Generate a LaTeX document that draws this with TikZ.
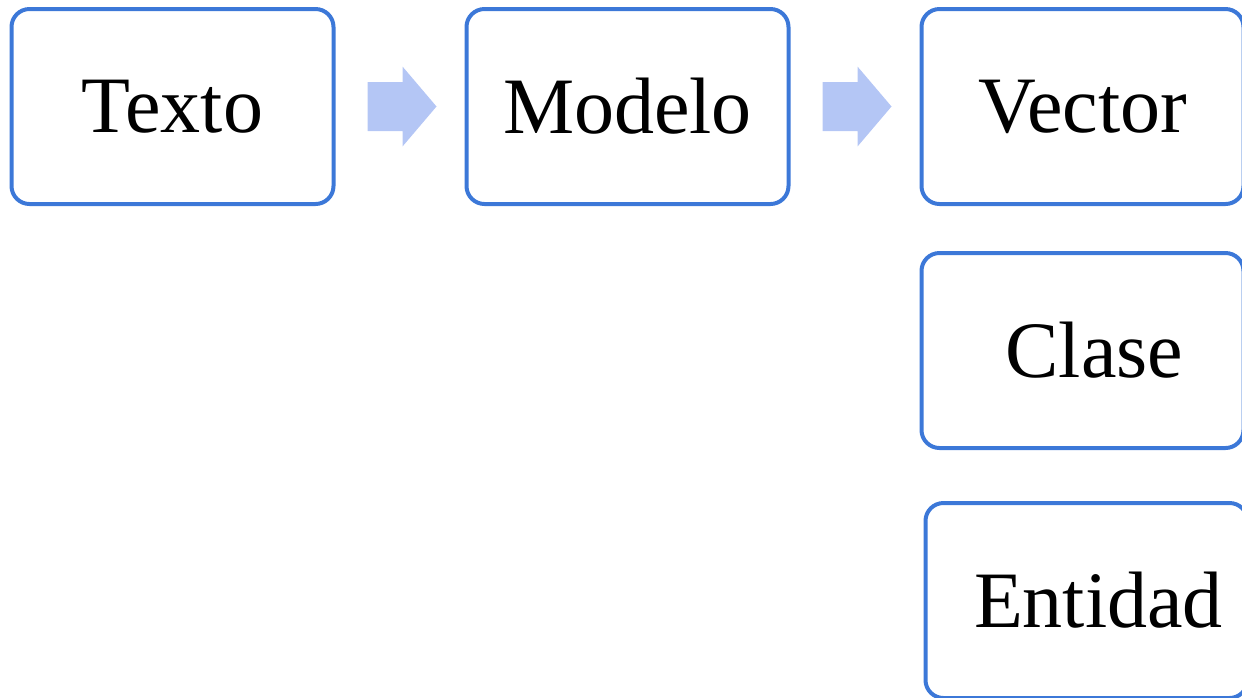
\documentclass[tikz,border=0pt]{standalone}
\usepackage{fontspec}
\setmainfont{Liberation Serif}
\usepackage{tikz}
\usetikzlibrary{matrix}
\usetikzlibrary{calc}
\definecolor{boxblue}{RGB}{60,120,216}
\definecolor{arrowblue}{RGB}{180,198,245}

\begin{document}
\begin{tikzpicture}[x=1pt, y=1pt]

    % TikZ styles for drawing %%%%%%%%%%%%%%%%%%%%%%%%%%%%%%%%%%%%%%%%%%%%%%%%%%%%%%
    \tikzstyle{box} = [draw=boxblue,rectangle,rounded corners=18pt,line width=4pt,minimum width=322pt,minimum height=195pt,inner sep=0pt,font=\fontsize{80}{96}\selectfont]
    \tikzstyle{flecha} = [fill=arrowblue,draw=none]

    \useasboundingbox (0,0) rectangle (1242,-697);

    % Node placement with matrix library (3x3 array) %%%%%%%%%%%%%%%%%%%%%%%%%%%%%%%%%%%%
    \matrix[ampersand replacement=\&, row sep=45pt, column sep=129pt, inner sep=0pt, outer sep=0pt, anchor=north west] at (9.5,-7) {

      % row 1
      \node[box] (texto) {Texto}; \&
      \node[box] (modelo) {Modelo}; \&
      \node[box] (vector) {Vector};
      \\

      % row 2
      \& \&
      \node[box] (clase) {\hspace*{24pt}Clase};
      \\[6pt]

      % row 3
      \& \&
      \node[box, xshift=4pt] (entidad) {\hspace*{24pt}Entidad};
      \\
    };

    % Now the block arrows between the boxes %%%%%%%%%%%%%%%%%%%%%%%%%%%%%%%%%%%%%%%%%%%
    \coordinate (m1) at ($(texto.east)!0.5!(modelo.west)$);
    \coordinate (m2) at ($(modelo.east)!0.5!(vector.west)$);
    \fill[flecha] ($(m1)+(-32.5,24.5)$) -- ++(35,0) -- ++(0,15.5) -- ($(m1)+(36.5,0)$)
      -- ($(m1)+(2.5,-40)$) -- ++(0,15.5) -- ++(-35,0) -- cycle;
    \fill[flecha] ($(m2)+(-32.5,24.5)$) -- ++(35,0) -- ++(0,15.5) -- ($(m2)+(36.5,0)$)
      -- ($(m2)+(2.5,-40)$) -- ++(0,15.5) -- ++(-35,0) -- cycle;

\end{tikzpicture}
\end{document}
